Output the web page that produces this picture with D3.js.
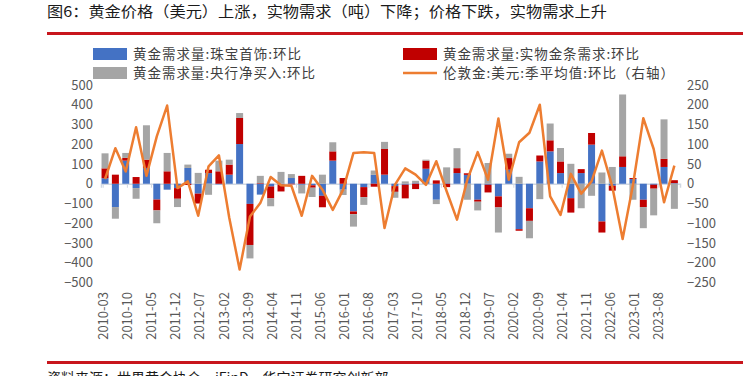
<!DOCTYPE html>
<html>
<head>
<meta charset="utf-8">
<script src="https://cdn.jsdelivr.net/npm/d3@7"></script>
<style>
  body { margin: 0; background: #fff; }
  text { font-family: "Noto Sans CJK SC", "Liberation Sans", sans-serif; }
</style>
</head>
<body>
<svg id="chart"></svg>
<script>
var width = 747;
var height = 376;

// quarters (end month of each quarter)
var quarters = ["2010-03","2010-06","2010-09","2010-12","2011-03","2011-06","2011-09","2011-12",
  "2012-03","2012-06","2012-09","2012-12","2013-03","2013-06","2013-09","2013-12",
  "2014-03","2014-06","2014-09","2014-12","2015-03","2015-06","2015-09","2015-12",
  "2016-03","2016-06","2016-09","2016-12","2017-03","2017-06","2017-09","2017-12",
  "2018-03","2018-06","2018-09","2018-12","2019-03","2019-06","2019-09","2019-12",
  "2020-03","2020-06","2020-09","2020-12","2021-03","2021-06","2021-09","2021-12",
  "2022-03","2022-06","2022-09","2022-12","2023-03","2023-06","2023-09","2023-12"];

// tonnes, QoQ change
var jewelry = [28,-118,117,-22,80,-80,-30,-22,80,-50,54,-3,46,201,-102,-55,
  -14,-5,29,-5,-8,-61,117,-30,-140,-17,45,46,-12,-5,3,76,
  -81,3,54,45,-81,-5,-64,71,-230,-124,113,164,54,-73,54,198,
  -191,-10,85,24,-81,-5,85,3];
var barCoin = [50,46,14,34,42,-55,63,-54,-6,-50,17,63,51,132,-208,3,
  -60,-34,-3,40,-12,-58,47,29,-14,-51,-15,130,-29,-69,-27,41,
  17,-17,25,8,-10,-39,-56,59,-8,-64,30,56,59,-73,20,59,
  -56,-25,54,5,-37,-20,41,15];
var centralBank = [76,-59,25,-54,174,-65,93,-42,17,55,-56,54,25,25,-68,37,
  -40,60,20,-44,-47,46,46,-27,-63,-39,22,36,-30,12,12,5,
  -22,80,101,-81,-44,105,-127,22,35,-88,-78,85,68,101,-124,-61,
  57,85,313,-81,-107,-135,200,-127];
// London gold, USD, quarterly average, QoQ change (right axis)
var goldPrice = [12,90,31,143,20,120,198,-11,6,-81,44,72,-86,-217,-83,-49,
  17,-4,-5,-81,20,-15,-66,-15,78,80,78,-112,-3,39,23,-3,
  57,-19,-91,10,80,10,165,10,105,129,200,-32,-79,25,-25,6,
  84,-7,-140,-3,166,88,-47,46];

var tickLabels = ["2010-03","2010-10","2011-05","2011-12","2012-07","2013-02","2013-09","2014-04",
  "2014-11","2015-06","2016-01","2016-08","2017-03","2017-10","2018-05","2018-12",
  "2019-07","2020-02","2020-09","2021-04","2021-11","2022-06","2023-01","2023-08"];

var seriesNames = ["黄金需求量:珠宝首饰:环比", "黄金需求量:实物金条需求:环比",
  "黄金需求量:央行净买入:环比", "伦敦金:美元:季平均值:环比（右轴）"];
var colors = ["#4472C4", "#C00000", "#A5A5A5", "#ED7D31"];

//month index counted from 2010-03
function monthIndex(s) {
    var p = s.split("-");
    return (+p[0] - 2010) * 12 + (+p[1] - 3);
}

var rows = quarters.map((q, i) => ({
    q: q, m: monthIndex(q),
    jewelry: jewelry[i], barCoin: barCoin[i], centralBank: centralBank[i], price: goldPrice[i]
}));

var x = d3.scaleLinear().domain([-0.5, 167.3]).range([101, 680]);
var y = d3.scaleLinear().domain([-500, 500]).range([282.5, 85]);
var y2 = d3.scaleLinear().domain([-250, 250]).range([282.5, 85]);
var barOffset = 0.67; // bars sit a bit after the month tick
var barW = 7;

var svg = d3.select('#chart').attr('width', width).attr('height', height);

//TITLE + RULES
svg.append('text')
    .attr('x', 47).attr('y', 17)
    .attr('font-size', 15)
    .attr('fill', '#1a1a1a')
    .attr('textLength', 560).attr('lengthAdjust', 'spacingAndGlyphs')
    .text('图6：黄金价格（美元）上涨，实物需求（吨）下降；价格下跌，实物需求上升');
svg.append('rect').attr('x', 47).attr('y', 32).attr('width', 696).attr('height', 3).attr('fill', '#C8161D');
svg.append('rect').attr('x', 47).attr('y', 361).attr('width', 696).attr('height', 3).attr('fill', '#C8161D');
// the source line is cut by the bottom edge, as in the original
svg.append('text')
    .attr('x', 47).attr('y', 383)
    .attr('font-size', 14)
    .attr('fill', '#1a1a1a')
    .text('资料来源：世界黄金协会，iFinD，华宝证券研究创新部');

//LEGEND
var legendFont = 14;
// half-width for ascii chars, full width for CJK (like the original's font)
function legendWidth(s) {
    var w = 0;
    for (var c of s) w += c.charCodeAt(0) < 128 ? 0.5 : 1;
    return w * legendFont;
}
var legendItems = [
    {name: seriesNames[0], color: colors[0], x: 93, y: 54, type: 'rect'},
    {name: seriesNames[1], color: colors[1], x: 403, y: 54, type: 'rect'},
    {name: seriesNames[2], color: colors[2], x: 93, y: 73, type: 'rect'},
    {name: seriesNames[3], color: colors[3], x: 403, y: 73, type: 'line'}
];
var legend = svg.append('g').selectAll('g').data(legendItems).enter().append('g')
    .attr('transform', d => `translate(${d.x}, ${d.y})`);
legend.filter(d => d.type === 'rect').append('rect')
    .attr('x', 0).attr('y', -6).attr('width', 34).attr('height', 12)
    .attr('fill', d => d.color);
legend.filter(d => d.type === 'line').append('line')
    .attr('x1', 0).attr('x2', 34).attr('y1', 0).attr('y2', 0)
    .attr('stroke', d => d.color).attr('stroke-width', 2.5);
legend.append('text')
    .attr('x', 40).attr('y', 0).attr('dy', '0.35em')
    .attr('font-size', 13.5).attr('fill', '#404040')
    .attr('textLength', d => legendWidth(d.name)).attr('lengthAdjust', 'spacing')
    .text(d => d.name);

//AXES
var yAxisL = svg.append('g')
    .attr('transform', 'translate(101,0)')
    .call(d3.axisLeft(y).tickValues(d3.range(-500, 501, 100)).tickSize(0).tickPadding(8));
var yAxisR = svg.append('g')
    .attr('transform', 'translate(680,0)')
    .call(d3.axisRight(y2).tickValues(d3.range(-250, 251, 50)).tickSize(0).tickPadding(7));
[yAxisL, yAxisR].forEach(function(a) {
    a.select('.domain').remove();
    a.selectAll('text').attr('font-family', '"Liberation Sans", Arial, sans-serif')
        .attr('font-size', 13).attr('fill', '#595959');
});

var tickMonths = tickLabels.map(monthIndex);
// zero line with small tick marks
var zeroAxis = svg.append('g')
    .attr('transform', `translate(0,${y(0)})`)
    .call(d3.axisBottom(x).tickValues(tickMonths).tickSize(4).tickFormat(''));
zeroAxis.select('.domain').attr('stroke', '#D0D7E2').attr('stroke-width', 1.5);
zeroAxis.selectAll('.tick line').attr('stroke', '#D0D7E2');

var xAxis = svg.append('g')
    .attr('transform', 'translate(0,292)')
    .call(d3.axisBottom(x).tickValues(tickMonths).tickSize(0)
        .tickFormat((d, i) => tickLabels[i]));
xAxis.select('.domain').remove();
xAxis.selectAll('text')
    .attr('transform', 'rotate(-90)')
    .attr('text-anchor', 'end')
    .attr('x', 0).attr('y', 0).attr('dy', '0.35em')
    .attr('font-family', '"Liberation Sans", Arial, sans-serif')
    .attr('font-size', 13).attr('fill', '#595959');

//STACKED BARS (positives up, negatives down)
var keys = ['jewelry', 'barCoin', 'centralBank'];
var stacked = d3.stack().keys(keys).offset(d3.stackOffsetDiverging)(rows);

svg.append('g').selectAll('g')
    .data(stacked).enter().append('g')
    .attr('fill', (d, i) => colors[i])
    .selectAll('rect')
    .data(d => d).enter().append('rect')
    .attr('x', d => x(d.data.m + barOffset) - barW / 2)
    .attr('width', barW)
    .attr('y', d => y(Math.max(d[0], d[1])))
    .attr('height', d => Math.abs(y(d[0]) - y(d[1])));

//PRICE LINE
var line = d3.line()
    .x(d => x(d.m + barOffset))
    .y(d => y2(d.price));
svg.append('path')
    .datum(rows)
    .attr('fill', 'none')
    .attr('stroke', colors[3])
    .attr('stroke-width', 2.5)
    .attr('stroke-linejoin', 'round')
    .attr('d', line);
</script>
</body>
</html>
